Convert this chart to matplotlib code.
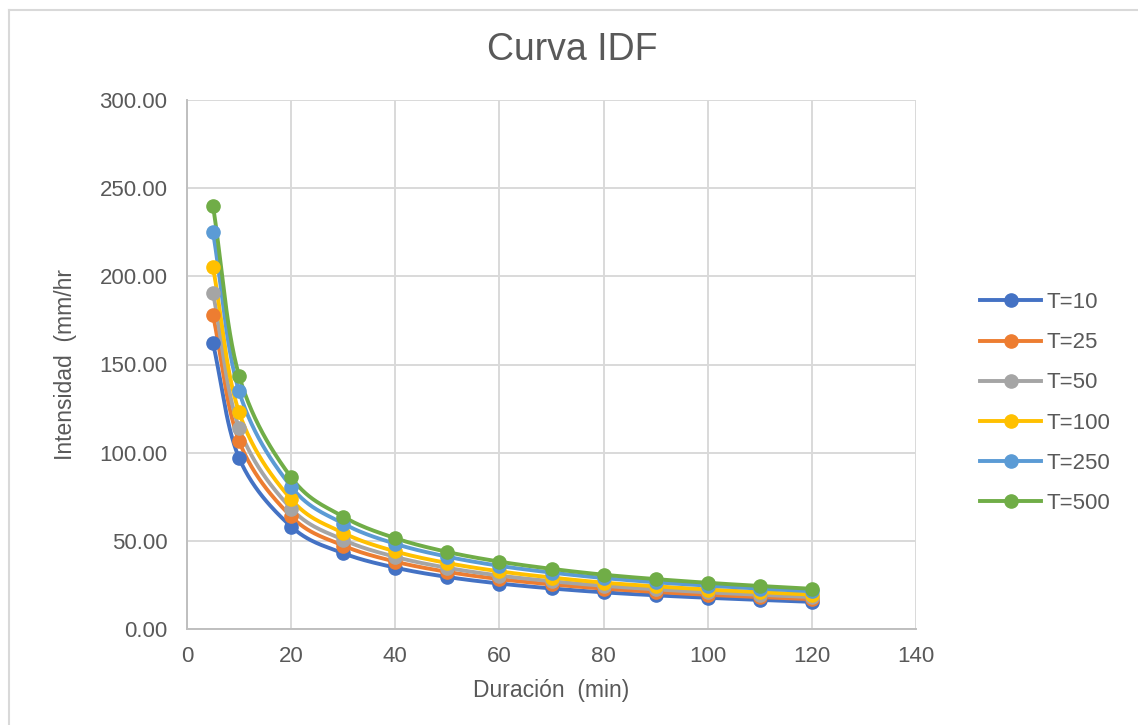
import numpy as np
import matplotlib
matplotlib.use("Agg")
import matplotlib.pyplot as plt
from matplotlib.lines import Line2D

plt.rcParams['font.family'] = ['Liberation Sans', 'DejaVu Sans']

# Duration (min) and rainfall intensity (mm/hr) for each return period
duracion = [5, 10, 20, 30, 40, 50, 60, 70, 80, 90, 100, 110, 120]
t10 = [162.0, 97.0, 58.1, 43.0, 34.8, 29.5, 25.8, 23.0, 20.8, 19.1, 17.7, 16.5, 15.4]
t25 = [178.1, 106.6, 63.8, 47.3, 38.2, 32.4, 28.3, 25.3, 22.9, 21.0, 19.4, 18.1, 16.9]
t50 = [190.6, 114.1, 68.3, 50.6, 40.9, 34.7, 30.3, 27.1, 24.5, 22.5, 20.8, 19.4, 18.1]
t100 = [205.2, 122.9, 73.5, 54.5, 44.0, 37.4, 32.7, 29.2, 26.3, 24.2, 22.4, 20.9, 19.5]
t250 = [225.1, 134.8, 80.7, 59.8, 48.3, 41.0, 35.8, 32.0, 28.9, 26.5, 24.6, 22.9, 21.4]
t500 = [240.0, 143.7, 86.0, 63.7, 51.5, 43.7, 38.2, 34.1, 30.8, 28.3, 26.2, 24.4, 22.8]

series_labels = ["T=10", "T=25", "T=50", "T=100", "T=250", "T=500"]
series_values = [t10, t25, t50, t100, t250, t500]
colors = ["#4472C4", "#ED7D31", "#A5A5A5", "#FFC000", "#5B9BD5", "#70AD47"]

x_ticks = [0, 20, 40, 60, 80, 100, 120, 140]
y_ticks = [0, 50, 100, 150, 200, 250, 300]

TEXT = "#595959"
GRID = "#D9D9D9"


def smooth(x, y, n=30):
    """Catmull-Rom spline through the points (smoothed line)."""
    x = np.asarray(x, float)
    y = np.asarray(y, float)
    px = np.concatenate([[2 * x[0] - x[1]], x, [2 * x[-1] - x[-2]]])
    py = np.concatenate([[2 * y[0] - y[1]], y, [2 * y[-1] - y[-2]]])
    xs, ys = [], []
    t = np.linspace(0, 1, n)
    for i in range(1, len(px) - 2):
        for arr, out in ((px, xs), (py, ys)):
            p0, p1, p2, p3 = arr[i - 1], arr[i], arr[i + 1], arr[i + 2]
            seg = 0.5 * ((2 * p1) + (-p0 + p2) * t
                         + (2 * p0 - 5 * p1 + 4 * p2 - p3) * t ** 2
                         + (-p0 + 3 * p1 - 3 * p2 + p3) * t ** 3)
            out.extend(seg)
    return np.array(xs), np.array(ys)


W, H = 1138, 725
fig = plt.figure(figsize=(W / 100, H / 100), dpi=100)
fig.patch.set_facecolor("white")

# chart-area border (top and left edges visible)
fig.add_artist(Line2D([9 / W, 9 / W], [0, 1 - 10 / H], transform=fig.transFigure,
                      color=GRID, lw=1.5))
fig.add_artist(Line2D([9 / W, 1], [1 - 10 / H, 1 - 10 / H], transform=fig.transFigure,
                      color=GRID, lw=1.5))

left, right, top, bottom = 187, 916, 100, 629
ax = fig.add_axes([left / W, 1 - bottom / H, (right - left) / W, (bottom - top) / H])

for vals, lab, c in zip(series_values, series_labels, colors):
    sx, sy = smooth(duracion, vals)
    ax.plot(sx, sy, color=c, lw=2.8, solid_capstyle="round", zorder=3)
    ax.plot(duracion, vals, linestyle="none", marker="o", markersize=9.5,
            color=c, zorder=4)

ax.set_xlim(0, 140)
ax.set_ylim(0, 300)
ax.set_xticks(x_ticks)
ax.set_yticks(y_ticks)
ax.set_yticklabels([f"{v:.2f}" for v in y_ticks])
ax.grid(True, color=GRID, lw=1.4, zorder=0)
ax.set_axisbelow(True)
for s in ["top", "right"]:
    ax.spines[s].set_visible(False)
for s in ["left", "bottom"]:
    ax.spines[s].set_color("#BFBFBF")
    ax.spines[s].set_linewidth(1.4)
ax.tick_params(axis="both", length=0, labelsize=16, colors=TEXT)
ax.tick_params(axis="y", pad=14)
ax.tick_params(axis="x", pad=12)

ax.set_xlabel("Duración  (min)", fontsize=16.5, color=TEXT, labelpad=9)
ax.set_ylabel("Intensidad  (mm/hr", fontsize=16.5, color=TEXT, labelpad=16)

fig.text(572 / W, 1 - 50 / H, "Curva IDF", ha="center", va="center",
         fontsize=27, color=TEXT)

handles = [Line2D([], [], color=c, lw=2.8, marker="o", markersize=9.5)
           for c in colors]
leg = fig.legend(handles, series_labels, loc="center left",
                 bbox_to_anchor=(980 / W, 1 - 403 / H), frameon=False,
                 fontsize=16, handlelength=2.75, handletextpad=0.25,
                 labelspacing=0.86, borderpad=0, borderaxespad=0)
for t in leg.get_texts():
    t.set_color(TEXT)

fig.savefig("out.png", dpi=100, facecolor="white")
